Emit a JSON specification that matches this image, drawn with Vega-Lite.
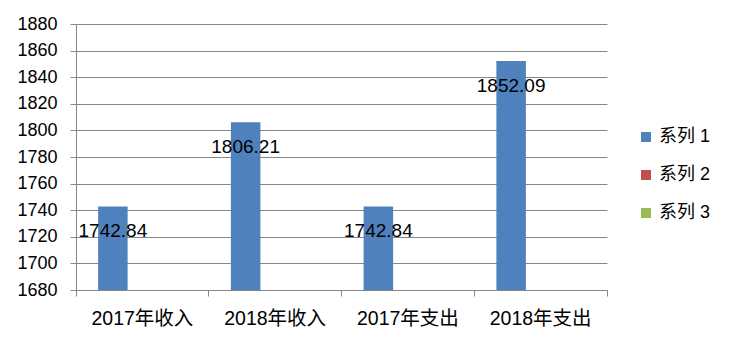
{
  "$schema": "https://vega.github.io/schema/vega-lite/v6.json",
  "width": 531,
  "height": 266,
  "autosize": {"type": "none"},
  "padding": {"left": 76, "top": 24, "right": 129, "bottom": 56},
  "background": "white",
  "config": {
    "view": {"stroke": null},
    "font": "Liberation Sans, Noto Sans CJK SC"
  },
  "data": {
    "values": [
      {"cat": "2017年收入", "series": "系列 1", "value": 1742.84},
      {"cat": "2017年收入", "series": "系列 2", "value": null},
      {"cat": "2017年收入", "series": "系列 3", "value": null},
      {"cat": "2018年收入", "series": "系列 1", "value": 1806.21},
      {"cat": "2018年收入", "series": "系列 2", "value": null},
      {"cat": "2018年收入", "series": "系列 3", "value": null},
      {"cat": "2017年支出", "series": "系列 1", "value": 1742.84},
      {"cat": "2017年支出", "series": "系列 2", "value": null},
      {"cat": "2017年支出", "series": "系列 3", "value": null},
      {"cat": "2018年支出", "series": "系列 1", "value": 1852.09},
      {"cat": "2018年支出", "series": "系列 2", "value": null},
      {"cat": "2018年支出", "series": "系列 3", "value": null}
    ]
  },
  "encoding": {
    "x": {
      "field": "cat",
      "type": "nominal",
      "sort": null,
      "title": null,
      "scale": {"paddingInner": 0, "paddingOuter": 0},
      "axis": {
        "labelAngle": 0,
        "labelFontSize": 19.5,
        "labelColor": "#000000",
        "labelPadding": 13,
        "domainColor": "#868686",
        "tickColor": "#868686",
        "tickSize": 6,
        "bandPosition": 1,
        "tickExtra": true,
        "grid": false
      }
    },
    "xOffset": {
      "field": "series",
      "type": "nominal",
      "scale": {"domain": ["系列 1", "系列 2", "系列 3"], "paddingInner": 0, "paddingOuter": 0.75}
    },
    "y": {
      "field": "value",
      "type": "quantitative",
      "title": null,
      "scale": {"domain": [1680, 1880], "zero": false, "nice": false},
      "axis": {
        "values": [1680, 1700, 1720, 1740, 1760, 1780, 1800, 1820, 1840, 1860, 1880],
        "format": "d",
        "labelFontSize": 18,
        "labelColor": "#000000",
        "labelPadding": 13,
        "domainColor": "#868686",
        "tickColor": "#868686",
        "tickSize": 6,
        "gridColor": "#868686",
        "grid": true
      }
    }
  },
  "layer": [
    {
      "mark": {"type": "bar", "clip": true},
      "encoding": {
        "color": {
          "field": "series",
          "type": "nominal",
          "scale": {"domain": ["系列 1", "系列 2", "系列 3"], "range": ["#4F81BD", "#C0504D", "#9BBB59"]},
          "legend": {
            "title": null,
            "orient": "none",
            "legendX": 561,
            "legendY": 104,
            "symbolType": "square",
            "symbolSize": 100,
            "symbolStrokeWidth": 0,
            "labelFontSize": 18,
            "labelColor": "#000000",
            "labelOffset": 4,
            "rowPadding": 20,
            "padding": 0
          }
        }
      }
    },
    {
      "transform": [{"filter": "datum.series == '系列 1'"}],
      "mark": {"type": "text", "baseline": "top", "dy": 16, "fontSize": 19, "color": "#000000"},
      "encoding": {
        "text": {"field": "value", "type": "quantitative", "format": ".2f"}
      }
    }
  ]
}
